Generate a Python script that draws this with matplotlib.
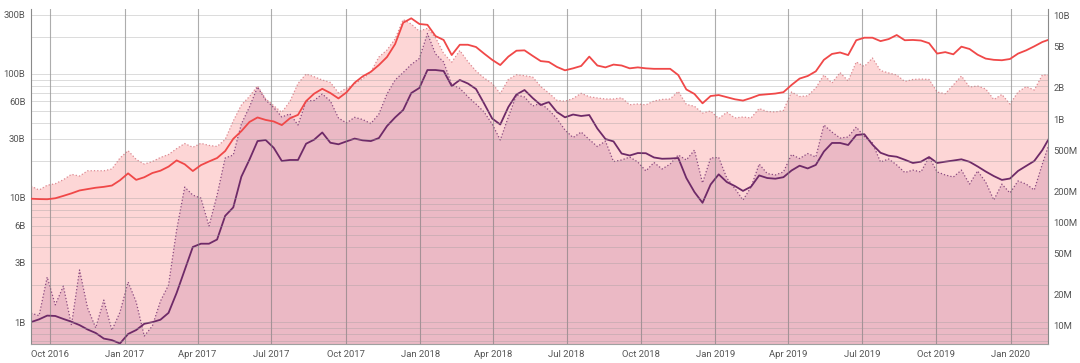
import matplotlib
matplotlib.use('Agg')
import matplotlib.pyplot as plt
import matplotlib.dates as mdates
from matplotlib.ticker import FixedLocator, LogLocator, NullFormatter
import pandas as pd

plt.rcParams['font.family'] = ['Roboto', 'DejaVu Sans']

# 10-day samples
dates = pd.date_range('2016-09-07', periods=127, freq='10D')

# red line, left axis (billions)
market_cap_b = [
    9.87, 9.8, 9.77, 9.95, 10.4, 10.9, 11.5, 11.8, 12.1, 12.3,
    12.6, 13.9, 15.8, 14.0, 14.7, 15.9, 16.6, 17.9, 20.1, 18.7,
    16.5, 18.4, 19.7, 21.0, 23.9, 30.0, 34.6, 41.0, 44.6, 42.6,
    41.4, 38.7, 43.9, 46.8, 60.4, 69.4, 75.9, 70.2, 63.5, 71.1,
    85, 95.6, 104, 118, 137, 174, 259, 281, 253, 249,
    202, 188, 142, 172, 172, 165, 146, 130, 118, 138,
    154, 155, 140, 127, 125, 114, 107, 111, 116, 138,
    117, 113, 119, 117, 111, 113, 111, 110, 110, 110,
    98, 75, 69, 58, 66.4, 67.6, 65, 62.5, 61, 64,
    67.7, 68.6, 69.5, 71.3, 81.5, 91.8, 96.3, 105, 130, 145,
    149, 142, 187, 196, 196, 184, 191, 206, 187, 188,
    186, 177, 146, 150, 144, 166, 159, 143, 133, 130,
    129, 132, 146, 155, 167, 181, 191]

# light pink area, right axis (millions)
volume_m = [
    225, 206, 229, 237, 259, 292, 281, 316, 317, 316,
    329, 420, 494, 407, 367, 388, 425, 454, 517, 580,
    533, 582, 556, 543, 634, 957, 1366, 1650, 2083, 1567,
    1343, 1160, 1477, 2203, 2722, 2560, 2383, 2258, 1791, 1985,
    2189, 2445, 2842, 3971, 4642, 5930, 9140, 8280, 7050, 7520,
    6110, 4300, 3540, 4590, 3580, 2910, 2495, 2208, 1762, 2410,
    2680, 2620, 2545, 2060, 1782, 1517, 1483, 1578, 1771, 1640,
    1597, 1561, 1561, 1603, 1374, 1396, 1371, 1493, 1546, 1561,
    1848, 1384, 1327, 1142, 1195, 1011, 1160, 1024, 1046, 1024,
    1262, 1181, 1169, 1209, 1824, 1649, 1676, 1995, 2661, 2228,
    2812, 2328, 3556, 3216, 3882, 2938, 2789, 2661, 2301, 2410,
    2434, 2410, 1824, 1753, 2133, 2602, 2037, 2083, 1950, 1542,
    1725, 1396, 1824, 2056, 1906, 2661, 2661]

# mauve area, right axis (millions)
daily_m = [
    13.3, 12.6, 29.7, 16.0, 24.3, 10.2, 34.8, 14.9, 9.6, 17.8,
    9.1, 13.6, 26.6, 17.1, 8.0, 10.0, 17.4, 24.9, 84.7, 220,
    184, 172, 92.5, 184, 420, 449, 895, 1306, 2037, 1527,
    1291, 1046, 1122, 875, 1493, 1510, 1745, 1493, 1024, 915,
    1038, 988, 905, 1117, 1745, 2383, 2812, 3365, 3846, 6700,
    4250, 3556, 2153, 1980, 1642, 1396, 1169, 895, 627, 1046,
    1707, 1633, 1336, 1419, 1222, 1011, 783, 662, 748, 634,
    542, 612, 388, 402, 429, 384, 315, 380, 329, 367,
    449, 402, 501, 241, 420, 425, 269, 213, 165, 220,
    367, 297, 288, 308, 454, 415, 464, 429, 875, 748,
    655, 670, 837, 677, 587, 384, 411, 360, 304, 321,
    308, 429, 308, 288, 275, 321, 235, 315, 246, 165,
    235, 193, 252, 235, 206, 367, 627]

# purple line, right axis (millions)
average_m = [
    10.9, 11.6, 12.6, 12.5, 11.7, 11.0, 10.2, 9.25, 8.56, 7.56,
    7.3, 6.78, 8.37, 9.14, 10.5, 10.9, 11.5, 13.4, 20.9, 34.8,
    58, 62.4, 62.4, 68.5, 116, 140, 277, 405, 612, 627,
    527, 393, 402, 402, 577, 632, 741, 590, 570, 608,
    647, 622, 612, 655, 855, 1035, 1222, 1782, 1995, 2974,
    2974, 2910, 2083, 2383, 2203, 1950, 1413, 1011, 885, 1306,
    1725, 1906, 1597, 1366, 1459, 1169, 1038, 1105, 1069, 1093,
    809, 641, 607, 464, 444, 469, 467, 425, 413, 415,
    420, 269, 197, 155, 233, 292, 246, 225, 202, 222,
    285, 269, 265, 274, 318, 354, 333, 360, 485, 587,
    587, 561, 700, 713, 566, 472, 442, 432, 404, 376,
    387, 429, 376, 387, 397, 408, 386, 348, 311, 281,
    258, 266, 315, 352, 393, 501, 686]

left_ticks = [1, 3, 6, 10, 30, 60, 100, 300]
left_labels = ['1B', '3B', '6B', '10B', '30B', '60B', '100B', '300B']
right_ticks = [10, 20, 50, 100, 200, 500, 1000, 2000, 5000, 10000]
right_labels = ['10M', '20M', '50M', '100M', '200M', '500M', '1B', '2B', '5B', '10B']
quarters = pd.date_range('2016-10-01', '2020-01-01', freq='QS')

fig = plt.figure(figsize=(10.8, 3.63), dpi=100)
ax = fig.add_axes([31 / 1080, 19 / 363, 1017 / 1080, 335 / 363])
ax2 = ax.twinx()

# areas + purple on the right axis
ax2.fill_between(dates, 1, volume_m, color='#fdd6d6', lw=0)
ax2.plot(dates, volume_m, ls=':', color='#dd8a92', lw=0.9)
ax2.fill_between(dates, 1, daily_m, color='#ebb9c5', lw=0)
ax2.plot(dates, daily_m, ls=':', color='#8a4a80', lw=0.9)
ax2.plot(dates, average_m, color='#6e2a68', lw=1.3)

# red line on the left axis
ax.plot(dates, market_cap_b, color='#f04848', lw=1.3, zorder=3)

ax.set_zorder(ax2.get_zorder() + 1)
ax.patch.set_visible(False)

ax.set_yscale('log')
ax.set_ylim(0.665, 334)
ax.yaxis.set_major_locator(FixedLocator(left_ticks))
ax.yaxis.set_major_formatter(plt.FixedFormatter(left_labels))
ax.yaxis.set_minor_locator(LogLocator(base=10, subs=range(1, 10), numticks=20))
ax.yaxis.set_minor_formatter(NullFormatter())
ax.grid(which='both', axis='y', color='#9a9a9a', alpha=0.35, lw=0.7)

ax2.set_yscale('log')
ax2.set_ylim(6.7, 11560)
ax2.yaxis.set_major_locator(FixedLocator(right_ticks))
ax2.yaxis.set_major_formatter(plt.FixedFormatter(right_labels))
ax2.yaxis.set_minor_locator(FixedLocator([]))

ax.xaxis.set_major_locator(FixedLocator(mdates.date2num(quarters)))
ax.xaxis.set_major_formatter(mdates.DateFormatter('%b %Y'))
ax.grid(axis='x', color='#777777', alpha=0.6, lw=0.8)
ax.set_xlim(pd.Timestamp('2016-09-07'), pd.Timestamp('2020-02-16'))

for a in (ax, ax2):
    a.tick_params(axis='both', which='both', length=0, labelsize=6.8,
                  labelcolor='#555555', pad=4)
    a.spines['top'].set_visible(False)

ax.spines['right'].set_visible(False)
ax2.spines['left'].set_visible(False)
ax2.spines['bottom'].set_visible(False)
ax.spines['left'].set_color('#8a8a8a')
ax.spines['bottom'].set_color('#a0a0a0')
ax2.spines['right'].set_color('#8a8a8a')

fig.savefig('out.png', dpi=100, facecolor='white')
